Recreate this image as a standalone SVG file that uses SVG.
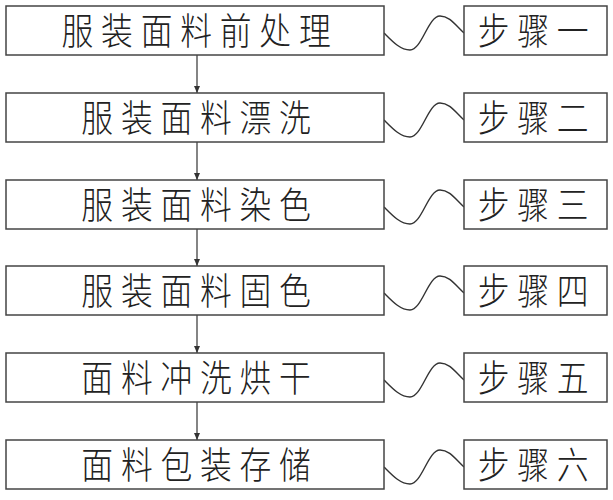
<svg xmlns="http://www.w3.org/2000/svg" width="613" height="500" viewBox="0 0 613 500">
<style>
.box{fill:#fff;stroke:#444;stroke-width:1.5}
.t{font-family:"Noto Sans CJK SC","Noto Sans CJK JP",sans-serif;font-size:37px;font-weight:300;fill:#222;text-anchor:middle;letter-spacing:9px}
.w{fill:none;stroke:#333;stroke-width:1.4}
.a{fill:none;stroke:#333;stroke-width:1.2}
</style>
<defs>
<marker id="ah" markerWidth="8" markerHeight="10" refX="7" refY="5" orient="auto" markerUnits="userSpaceOnUse">
<path d="M0,2 L7,5 L0,8 Z" fill="#333"/>
</marker>
<path id="wave" d="M384,27 C392,35 400,44 410,44 C422,44 428,10 440,10 C450,10 456,20 464,27"/>
</defs>
<rect width="613" height="500" fill="#fff"/>
<g id="connectors">
<line class="a" x1="197" y1="55" x2="197" y2="93" marker-end="url(#ah)"/>
<line class="a" x1="197" y1="142" x2="197" y2="180" marker-end="url(#ah)"/>
<line class="a" x1="197" y1="229" x2="197" y2="266" marker-end="url(#ah)"/>
<line class="a" x1="197" y1="315" x2="197" y2="353" marker-end="url(#ah)"/>
<line class="a" x1="197" y1="402" x2="197" y2="440" marker-end="url(#ah)"/>
<use href="#wave" class="w" transform="translate(0,6)"/>
<use href="#wave" class="w" transform="translate(0,93)"/>
<use href="#wave" class="w" transform="translate(0,180)"/>
<use href="#wave" class="w" transform="translate(0,266)"/>
<use href="#wave" class="w" transform="translate(0,353)"/>
<use href="#wave" class="w" transform="translate(0,440)"/>
</g>
<g id="s1"><rect class="box" x="6" y="6" width="378" height="49"/><text class="t" transform="translate(200,44.5) scale(0.86,1)">服装面料前处理</text></g>
<g id="s2"><rect class="box" x="6" y="93" width="378" height="49"/><text class="t" transform="translate(200,131.5) scale(0.86,1)">服装面料漂洗</text></g>
<g id="s3"><rect class="box" x="6" y="180" width="378" height="49"/><text class="t" transform="translate(200,218.5) scale(0.86,1)">服装面料染色</text></g>
<g id="s4"><rect class="box" x="6" y="266" width="378" height="49"/><text class="t" transform="translate(200,304.5) scale(0.86,1)">服装面料固色</text></g>
<g id="s5"><rect class="box" x="6" y="353" width="378" height="49"/><text class="t" transform="translate(200,391.5) scale(0.86,1)">面料冲洗烘干</text></g>
<g id="s6"><rect class="box" x="6" y="440" width="378" height="49"/><text class="t" transform="translate(200,478.5) scale(0.86,1)">面料包装存储</text></g>
<g id="r1"><rect class="box" x="464" y="6" width="143" height="49"/><text class="t" transform="translate(537,44.5) scale(0.86,1)">步骤一</text></g>
<g id="r2"><rect class="box" x="464" y="93" width="143" height="49"/><text class="t" transform="translate(537,131.5) scale(0.86,1)">步骤二</text></g>
<g id="r3"><rect class="box" x="464" y="180" width="143" height="49"/><text class="t" transform="translate(537,218.5) scale(0.86,1)">步骤三</text></g>
<g id="r4"><rect class="box" x="464" y="266" width="143" height="49"/><text class="t" transform="translate(537,304.5) scale(0.86,1)">步骤四</text></g>
<g id="r5"><rect class="box" x="464" y="353" width="143" height="49"/><text class="t" transform="translate(537,391.5) scale(0.86,1)">步骤五</text></g>
<g id="r6"><rect class="box" x="464" y="440" width="143" height="49"/><text class="t" transform="translate(537,478.5) scale(0.86,1)">步骤六</text></g>
</svg>
